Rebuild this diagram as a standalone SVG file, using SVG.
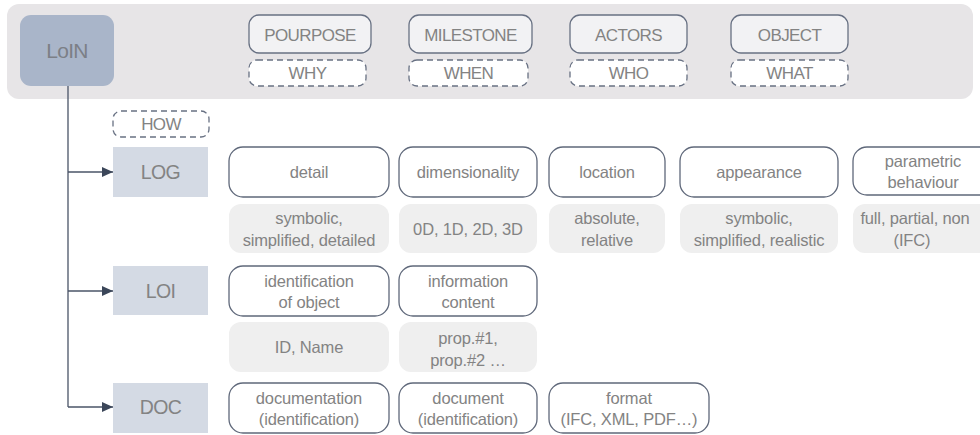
<svg xmlns="http://www.w3.org/2000/svg" width="980" height="435" viewBox="0 0 980 435">
  <style>
    text { font-family: "Liberation Sans", Arial, sans-serif; fill: #838383; text-anchor: middle; }
    .cap { font-size: 17px; letter-spacing: -0.6px; }
    .lbl { font-size: 16.5px; letter-spacing: -0.15px; }
    .big { font-size: 19.5px; letter-spacing: -0.6px; }
    .root-t { font-size: 21px; letter-spacing: -0.7px; fill: #7c7f86; }
    .band { fill: #e7e5e7; }
    .head { fill: #f2f2f4; stroke: #687183; stroke-width: 1.3; }
    .dash { fill: #ffffff; stroke: #687183; stroke-width: 1.3; stroke-dasharray: 6 4; }
    .level { fill: #d4dae4; }
    .root { fill: #a9b5c9; }
    .attr { fill: #ffffff; stroke: #5f687a; stroke-width: 1.3; }
    .val { fill: #efefef; }
    .conn { fill: none; stroke: #4a5467; stroke-width: 1.3; }
  </style>
  <defs>
    <marker id="arrow" markerWidth="11" markerHeight="10" refX="11" refY="5" orient="auto" markerUnits="userSpaceOnUse">
      <path d="M0,0 L11,5 L0,10 Z" fill="#3b4659"/>
    </marker>
  </defs>

  <!-- header band -->
  <rect class="band" x="7" y="4" width="966" height="95" rx="12"/>

  <g id="loin">
    <rect class="root" x="20" y="15" width="94" height="71" rx="11"/>
    <text class="root-t" x="67" y="58">LoIN</text>
  </g>

  <g id="purpose">
    <rect class="head" x="249" y="15" width="122" height="38" rx="10"/>
    <text class="cap" x="310" y="41">POURPOSE</text>
    <rect class="dash" x="249" y="60" width="117" height="26" rx="8"/>
    <text class="cap" x="307.5" y="79">WHY</text>
  </g>
  <g id="milestone">
    <rect class="head" x="409" y="15" width="123" height="38" rx="10"/>
    <text class="cap" x="470.5" y="41">MILESTONE</text>
    <rect class="dash" x="409" y="60" width="119" height="26" rx="8"/>
    <text class="cap" x="468.5" y="79">WHEN</text>
  </g>
  <g id="actors">
    <rect class="head" x="570" y="15" width="117" height="38" rx="10"/>
    <text class="cap" x="628.5" y="41">ACTORS</text>
    <rect class="dash" x="570" y="60" width="117" height="26" rx="8"/>
    <text class="cap" x="628.5" y="79">WHO</text>
  </g>
  <g id="object">
    <rect class="head" x="731" y="15" width="117" height="38" rx="10"/>
    <text class="cap" x="789.5" y="41">OBJECT</text>
    <rect class="dash" x="731" y="60" width="117" height="26" rx="8"/>
    <text class="cap" x="789.5" y="79">WHAT</text>
  </g>

  <g id="how">
    <rect class="dash" x="113" y="111" width="96" height="26" rx="8"/>
    <text class="cap" x="161" y="130">HOW</text>
  </g>

  <!-- connectors -->
  <g id="connectors">
    <path class="conn" d="M68,86 V407"/>
    <path class="conn" d="M68,172 H113" marker-end="url(#arrow)"/>
    <path class="conn" d="M68,291 H113" marker-end="url(#arrow)"/>
    <path class="conn" d="M68,407 H113" marker-end="url(#arrow)"/>
  </g>

  <!-- LOG row -->
  <g id="log">
    <rect class="level" x="113" y="147" width="95" height="50"/>
    <text class="big" x="160.5" y="179">LOG</text>
  </g>
  <g id="log-detail">
    <rect class="attr" x="229" y="147" width="160" height="50" rx="14"/>
    <text class="lbl" x="309" y="178">detail</text>
    <rect class="val" x="229" y="204" width="160" height="49" rx="12"/>
    <text class="lbl" x="309" y="224">symbolic,</text>
    <text class="lbl" x="309" y="246">simplified, detailed</text>
  </g>
  <g id="log-dimensionality">
    <rect class="attr" x="399" y="147" width="138" height="50" rx="14"/>
    <text class="lbl" x="468" y="178">dimensionality</text>
    <rect class="val" x="399" y="204" width="138" height="49" rx="12"/>
    <text class="lbl" x="468" y="235">0D, 1D, 2D, 3D</text>
  </g>
  <g id="log-location">
    <rect class="attr" x="549" y="147" width="116" height="50" rx="14"/>
    <text class="lbl" x="607" y="178">location</text>
    <rect class="val" x="549" y="204" width="116" height="49" rx="12"/>
    <text class="lbl" x="607" y="224">absolute,</text>
    <text class="lbl" x="607" y="246">relative</text>
  </g>
  <g id="log-appearance">
    <rect class="attr" x="680" y="147" width="158" height="50" rx="14"/>
    <text class="lbl" x="759" y="178">appearance</text>
    <rect class="val" x="680" y="204" width="158" height="49" rx="12"/>
    <text class="lbl" x="759" y="224">symbolic,</text>
    <text class="lbl" x="759" y="246">simplified, realistic</text>
  </g>
  <g id="log-parametric">
    <rect class="attr" x="853" y="147" width="150" height="48" rx="14"/>
    <text class="lbl" x="923" y="167">parametric</text>
    <text class="lbl" x="923" y="188">behaviour</text>
    <rect class="val" x="853" y="204" width="150" height="49" rx="12"/>
    <text class="lbl" x="915" y="224">full, partial, non</text>
    <text class="lbl" x="912" y="246">(IFC)</text>
  </g>

  <!-- LOI row -->
  <g id="loi">
    <rect class="level" x="113" y="266" width="95" height="49"/>
    <text class="big" x="160.5" y="298">LOI</text>
  </g>
  <g id="loi-identification">
    <rect class="attr" x="229" y="266" width="160" height="50" rx="14"/>
    <text class="lbl" x="309" y="287">identification</text>
    <text class="lbl" x="309" y="308">of object</text>
    <rect class="val" x="229" y="322" width="160" height="50" rx="12"/>
    <text class="lbl" x="309" y="353">ID, Name</text>
  </g>
  <g id="loi-content">
    <rect class="attr" x="399" y="266" width="138" height="50" rx="14"/>
    <text class="lbl" x="468" y="287">information</text>
    <text class="lbl" x="468" y="308">content</text>
    <rect class="val" x="399" y="322" width="138" height="50" rx="12"/>
    <text class="lbl" x="468" y="344">prop.#1,</text>
    <text class="lbl" x="468" y="366">prop.#2 …</text>
  </g>

  <!-- DOC row -->
  <g id="doc">
    <rect class="level" x="113" y="383" width="95" height="50"/>
    <text class="big" x="160.5" y="414">DOC</text>
  </g>
  <g id="doc-documentation">
    <rect class="attr" x="229" y="383" width="160" height="50" rx="14"/>
    <text class="lbl" x="309" y="404">documentation</text>
    <text class="lbl" x="309" y="425">(identification)</text>
  </g>
  <g id="doc-document">
    <rect class="attr" x="399" y="383" width="138" height="50" rx="14"/>
    <text class="lbl" x="468" y="404">document</text>
    <text class="lbl" x="468" y="425">(identification)</text>
  </g>
  <g id="doc-format">
    <rect class="attr" x="549" y="383" width="160" height="50" rx="14"/>
    <text class="lbl" x="629" y="404">format</text>
    <text class="lbl" x="629" y="425">(IFC, XML, PDF…)</text>
  </g>
</svg>
